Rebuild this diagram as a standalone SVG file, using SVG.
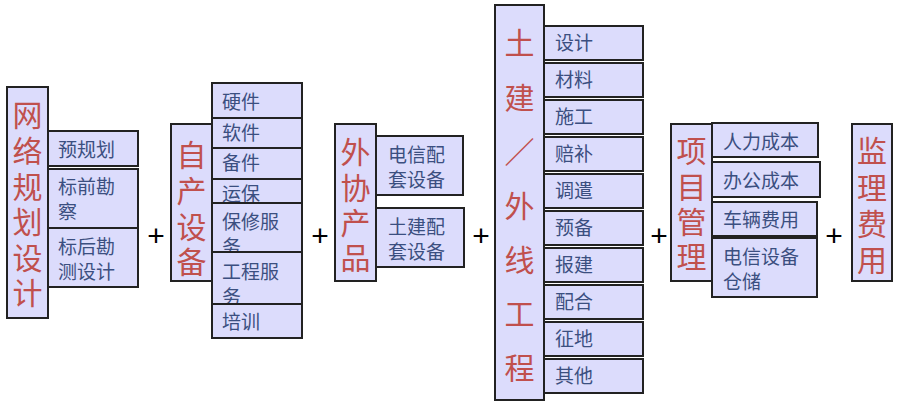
<svg xmlns="http://www.w3.org/2000/svg" width="897" height="405" viewBox="0 0 897 405">
<style>
rect{fill:#dcdcfc;stroke:#222;stroke-width:2}
text{font-family:"Noto Sans CJK SC","Noto Sans CJK JP",sans-serif}
.m{fill:#c0504d;font-size:30px;writing-mode:vertical-rl;text-orientation:upright}
.s{fill:#3b4f80;font-size:19px}
.p{fill:#000;font-family:"Liberation Sans",sans-serif;font-size:30px;text-anchor:middle}
</style>
<rect x="0" y="0" width="897" height="405" style="fill:#fff;stroke:none"/>

<g id="n1">
<rect x="7" y="87" width="41" height="231"/>
<text class="m" x="27.5" y="100" letter-spacing="5.6">网络规划设<tspan letter-spacing="0">计</tspan></text>
</g>
<g id="n1a"><rect x="48" y="131" width="90" height="35"/><text class="s" x="58" y="157">预规划</text></g>
<g id="n1b"><rect x="48" y="169" width="90" height="59"/><text class="s"><tspan x="58" y="194">标前勘</tspan><tspan x="58" y="219">察</tspan></text></g>
<g id="n1c"><rect x="48" y="228" width="90" height="59"/><text class="s"><tspan x="58" y="254">标后勘</tspan><tspan x="58" y="279">测设计</tspan></text></g>

<g id="n2">
<rect x="171" y="124" width="41" height="157"/>
<text class="m" x="191.5" y="140" letter-spacing="5.67">自产设<tspan letter-spacing="0">备</tspan></text>
</g>
<g id="n2a"><rect x="212" y="83" width="90" height="35"/><text class="s" x="222" y="109">硬件</text></g>
<g id="n2b"><rect x="212" y="118" width="90" height="30"/><text class="s" x="222" y="140">软件</text></g>
<g id="n2c"><rect x="212" y="148" width="90" height="31"/><text class="s" x="222" y="170">备件</text></g>
<g id="n2d"><rect x="212" y="179" width="90" height="24"/><text class="s" x="222" y="201">运保</text></g>
<g id="n2e"><rect x="212" y="203" width="90" height="49"/><text class="s"><tspan x="222" y="229">保修服</tspan><tspan x="222" y="254">务</tspan></text></g>
<g id="n2f"><rect x="212" y="252" width="90" height="52"/><text class="s"><tspan x="222" y="279">工程服</tspan><tspan x="222" y="304">务</tspan></text></g>
<g id="n2g"><rect x="212" y="304" width="90" height="34"/><text class="s" x="222" y="329">培训</text></g>

<g id="n3">
<rect x="335" y="124" width="41" height="157"/>
<text class="m" x="355.5" y="137" letter-spacing="5.33">外协产<tspan letter-spacing="0">品</tspan></text>
</g>
<g id="n3a"><rect x="376" y="136" width="87" height="59"/><text class="s"><tspan x="388" y="162">电信配</tspan><tspan x="388" y="187">套设备</tspan></text></g>
<g id="n3b"><rect x="376" y="208" width="88" height="59"/><text class="s"><tspan x="388" y="234">土建配</tspan><tspan x="388" y="259">套设备</tspan></text></g>

<g id="n4">
<rect x="495" y="5" width="49" height="395"/>
<text class="m" x="519.5" y="28" letter-spacing="24.17">土建／外线工<tspan letter-spacing="0">程</tspan></text>
</g>
<g id="n4a"><rect x="544" y="26" width="99" height="34"/><text class="s" x="555" y="50">设计</text></g>
<g id="n4b"><rect x="544" y="63" width="99" height="34"/><text class="s" x="555" y="87">材料</text></g>
<g id="n4c"><rect x="544" y="100" width="99" height="34"/><text class="s" x="555" y="124">施工</text></g>
<g id="n4d"><rect x="544" y="137" width="99" height="34"/><text class="s" x="555" y="161">赔补</text></g>
<g id="n4e"><rect x="544" y="174" width="99" height="34"/><text class="s" x="555" y="198">调遣</text></g>
<g id="n4f"><rect x="544" y="211" width="99" height="34"/><text class="s" x="555" y="235">预备</text></g>
<g id="n4g"><rect x="544" y="248" width="99" height="34"/><text class="s" x="555" y="272">报建</text></g>
<g id="n4h"><rect x="544" y="285" width="99" height="34"/><text class="s" x="555" y="309">配合</text></g>
<g id="n4i"><rect x="544" y="322" width="99" height="34"/><text class="s" x="555" y="346">征地</text></g>
<g id="n4j"><rect x="544" y="359" width="99" height="34"/><text class="s" x="555" y="383">其他</text></g>

<g id="n5">
<rect x="671" y="124" width="41" height="157"/>
<text class="m" x="691.5" y="136" letter-spacing="5.33">项目管<tspan letter-spacing="0">理</tspan></text>
</g>
<g id="n5a"><rect x="712" y="123" width="106" height="34"/><text class="s" x="723" y="149">人力成本</text></g>
<g id="n5b"><rect x="712" y="162" width="108" height="35"/><text class="s" x="723" y="188">办公成本</text></g>
<g id="n5c"><rect x="712" y="202" width="105" height="34"/><text class="s" x="723" y="227">车辆费用</text></g>
<g id="n5d"><rect x="712" y="238" width="105" height="59"/><text class="s"><tspan x="723" y="264">电信设备</tspan><tspan x="723" y="289">仓储</tspan></text></g>

<g id="n6">
<rect x="852" y="124" width="40" height="157"/>
<text class="m" x="872" y="136" letter-spacing="6.33">监理费<tspan letter-spacing="0">用</tspan></text>
</g>

<g id="connectors">
<text class="p" x="156" y="246">+</text>
<text class="p" x="320" y="246">+</text>
<text class="p" x="481" y="246">+</text>
<text class="p" x="659" y="246">+</text>
<text class="p" x="834" y="246">+</text>
</g>
</svg>
